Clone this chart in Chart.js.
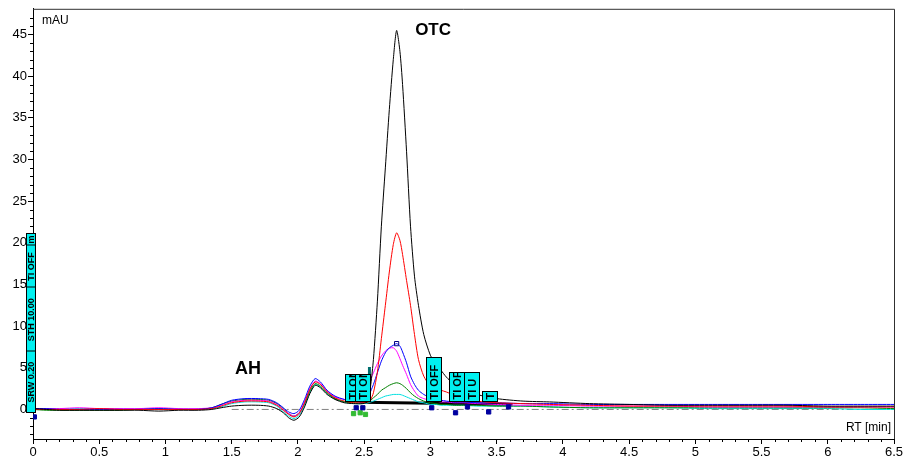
<!DOCTYPE html>
<html><head><meta charset="utf-8">
<script src="https://cdn.jsdelivr.net/npm/chart.js@4.4.1/dist/chart.umd.min.js"></script>
<style>html,body{margin:0;padding:0;background:#fff}#wrap{width:907px;height:464px;position:relative}</style>
</head><body><div id="wrap"><canvas id="c"></canvas></div>
<script>
// ---- data (retention time in min, absorbance in mAU) ----
const times = [0,0.1,0.2,0.35,0.5,0.65,0.8,0.95,1.1,1.25,
  1.35,1.42,1.5,1.6,1.7,1.78,1.84,1.89,1.93,1.97,
  2.01,2.05,2.09,2.13,2.17,2.22,2.28,2.35,2.42,
  2.49,2.53,2.55,2.57,2.60,2.63,2.66,2.69,2.72,2.745,2.77,2.79,2.82,2.85,2.88,2.91,2.95,3.00,3.04,3.08,3.12,3.18,3.25,3.35,3.5,
  3.7,3.9,4.2,4.5,4.8,5.1,5.4,5.7,6.0,6.25,6.5];
const blackTrace = [0.1,0.0,-0.1,-0.1,-0.1,-0.1,-0.1,-0.2,-0.1,-0.1,
  0.0,0.2,0.4,0.5,0.5,0.4,0.1,-0.4,-1.0,-1.3,
  -0.9,0.3,1.9,2.9,2.6,1.8,1.2,0.8,0.7,
  0.7,1.0,3.0,6.0,13,22,29,36,42,45.5,43,39,31,22,16,12.5,9,6.5,5.5,4.7,3.9,3.0,2.4,1.8,1.3,
  1.0,0.9,0.7,0.6,0.5,0.5,0.5,0.5,0.4,0.4,0.4];
const redTrace = [0.0,0.0,0.0,0.0,0.1,0.0,0.0,0.0,0.0,0.0,
  0.1,0.4,0.8,1.0,1.0,0.9,0.5,-0.1,-0.6,-0.9,
  -0.5,0.8,2.4,3.3,3.0,2.1,1.4,1.0,0.8,
  0.8,0.9,1.2,2.0,4.5,8.5,12.5,16.5,19.8,21.2,20.3,18.6,15.5,12.5,9.0,6.0,4.0,2.8,2.5,2.3,2.1,1.7,1.3,1.0,0.8,
  0.7,0.6,0.5,0.4,0.4,0.4,0.4,0.4,0.3,0.3,0.3];
const blueTrace = [0.1,0.1,0.0,0.0,0.0,0.0,0.0,0.1,0.0,0.0,
  0.2,0.6,1.1,1.3,1.3,1.2,0.8,0.2,-0.3,-0.5,
  -0.1,1.2,2.8,3.7,3.3,2.3,1.6,1.2,1.0,
  0.9,1.4,2.2,3.0,4.4,5.8,6.8,7.4,7.7,7.9,7.6,6.9,5.6,4.0,3.0,2.3,1.8,1.4,1.2,1.1,1.0,0.9,0.9,0.8,0.8,
  0.7,0.7,0.6,0.6,0.6,0.6,0.6,0.6,0.6,0.6,0.6];
const magentaTrace = [0.1,0.1,0.1,0.2,0.1,0.1,0.1,0.2,0.1,0.1,
  0.2,0.5,0.9,1.1,1.1,1.0,0.6,0.0,-0.5,-0.8,
  -0.4,0.9,2.5,3.4,3.1,2.2,1.5,1.2,1.1,
  1.3,3.0,3.7,4.4,5.5,6.4,7.0,7.35,7.4,7.0,6.1,5.3,4.2,3.0,2.2,1.6,1.3,1.1,1.0,0.9,0.9,0.8,0.8,0.7,0.6,
  0.5,0.5,0.4,0.4,0.4,0.3,0.3,0.3,0.3,0.3,0.3];
const greenTrace = [0.0,-0.1,-0.1,-0.1,-0.1,-0.1,0.0,0.0,0.0,0.0,
  0.2,0.6,1.0,1.2,1.2,1.1,0.7,0.1,-0.5,-0.8,
  -0.4,0.7,2.2,3.1,2.8,2.0,1.3,0.9,0.8,
  0.8,0.9,1.1,1.4,1.8,2.3,2.6,2.9,3.1,3.2,3.1,2.9,2.5,2.0,1.6,1.3,1.0,0.8,0.7,0.6,0.6,0.5,0.5,0.5,0.4,
  0.4,0.3,0.2,0.2,0.2,0.2,0.2,0.2,0.2,0.2,0.1];
const cyanTrace = [0.1,0.1,0.1,0.1,0.1,0.1,0.1,0.1,0.1,0.1,
  0.1,0.3,0.7,0.9,0.9,0.8,0.4,-0.3,-0.8,-1.1,
  -0.7,0.5,2.0,3.0,2.7,1.9,1.3,0.9,0.7,
  0.7,0.8,0.9,1.0,1.2,1.4,1.6,1.7,1.8,1.8,1.8,1.7,1.5,1.3,1.1,0.9,0.8,0.6,0.6,0.5,0.5,0.5,0.5,0.4,0.4,
  0.4,0.3,0.2,0.2,0.2,0.1,0.1,0.1,0.1,0.0,0.0];

const xTicks = [0,0.5,1,1.5,2,2.5,3,3.5,4,4.5,5,5.5,6,6.5];
const yTicks = [0,5,10,15,20,25,30,35,40,45];

// integration events
const eventTimes  = [-0.02, 2.41, 2.49, 3.02, 3.20, 3.31, 3.45];
const eventTops   = [21.2, 4.2, 4.2, 6.25, 4.45, 4.45, 2.2];
const eventBases  = [-0.3, 1.0, 1.0, 1.0, 1.0, 1.0, 1.0];
const eventLabels = ["SRW 0.20|STH 10.00|TI OFF|m", "TI ON", "TI ON", "TI OFF", "TI OFF", "TI U", "TI ON"];

const markerTimes  = [0.01, 2.44, 2.49, 3.01, 3.19, 3.28, 3.44, 3.59];
const markerValues = [-0.9, 0.2, 0.2, 0.2, -0.4, 0.3, -0.3, 0.3];
const greenMarkTimes  = [2.42, 2.47, 2.51];
const greenMarkValues = [-0.5, -0.4, -0.6];
const integTimes  = [2.47, 3.15, 3.62];
const integValues = [0.85, 0.7, 0.6];
const zeroTimes  = [1.5, 6.5];
const zeroValues = [0, 0];
const barTimes  = [2.54, 2.54];
const barValues = [1.0, 5.1];

const pts = (xs, ys) => xs.map((x, i) => ({x: x, y: ys[i]}));
const FONT = '"Liberation Sans", Arial, sans-serif';
const blueMax = blueTrace.indexOf(Math.max(...blueTrace));

function trace(data, color, extra) {
  return Object.assign({data: pts(times, data), borderColor: color, borderWidth: 1,
    pointRadius: 0, tension: 0.25, fill: false}, extra || {});
}

const datasets = [
  trace(blackTrace, '#000000'),
  trace(redTrace, '#ff0000'),
  trace(blueTrace, '#0000ff', {pointRadius: c => c.dataIndex === blueMax ? 3 : 0,
      pointStyle: 'rect', pointBorderColor: '#000080', pointBackgroundColor: 'rgba(0,0,0,0)', pointBorderWidth: 1}),
  trace(magentaTrace, '#ff00ff'),
  trace(greenTrace, '#008000'),
  trace(cyanTrace, '#00e0e0'),
  {data: pts(integTimes, integValues), borderColor: '#000', borderWidth: 3, pointRadius: 0, tension: 0},
  {data: pts(barTimes, barValues), borderColor: '#006e6e', borderWidth: 3, pointRadius: 0, tension: 0},
  {type: 'scatter', data: pts(markerTimes, markerValues), pointStyle: 'rect', pointRadius: 3,
    backgroundColor: '#0000a0', borderColor: '#0000a0', order: -1},
  {type: 'scatter', data: pts(greenMarkTimes, greenMarkValues), pointStyle: 'rect', pointRadius: 3,
    backgroundColor: '#33bb33', borderColor: '#33bb33', order: -1},
  {data: pts(zeroTimes, zeroValues), borderColor: '#808080', borderWidth: 1, borderDash: [7, 3, 2, 3],
    pointRadius: 0, tension: 0, order: 10}
];

const overlay = {
  id: 'overlay',
  afterDraw(chart) {
    const ctx = chart.ctx, xs = chart.scales.x, ys = chart.scales.y, a = chart.chartArea;
    ctx.save();
    // frame top / right
    ctx.strokeStyle = '#303030'; ctx.lineWidth = 1;
    ctx.beginPath();
    ctx.moveTo(a.left, a.top + 0.5); ctx.lineTo(a.right + 0.5, a.top + 0.5); ctx.lineTo(a.right + 0.5, a.bottom);
    ctx.stroke();
    // minor ticks
    ctx.strokeStyle = '#000';
    ctx.beginPath();
    for (let i = 0; i <= 65; i++) {
      if (i % 5 === 0) continue;
      const px = Math.round(xs.getPixelForValue(i / 10)) + 0.5;
      ctx.moveTo(px, a.bottom); ctx.lineTo(px, a.bottom + 3);
    }
    for (let v = -3; v <= 47; v++) {
      if (v % 5 === 0) continue;
      const py = Math.round(ys.getPixelForValue(v)) + 0.5;
      ctx.moveTo(a.left, py); ctx.lineTo(a.left - 3, py);
    }
    ctx.stroke();
    // texts
    ctx.fillStyle = '#000';
    ctx.textBaseline = 'middle';
    ctx.font = '12px ' + FONT; ctx.textAlign = 'left';
    ctx.fillText('mAU', a.left + 9, a.top + 12);
    ctx.textAlign = 'right';
    ctx.fillText('RT [min]', a.right - 3, a.bottom - 11);
    ctx.textAlign = 'left';
    ctx.font = 'bold 17px ' + FONT;
    ctx.fillText('OTC', xs.getPixelForValue(2.885), ys.getPixelForValue(45.5));
    ctx.font = 'bold 18px ' + FONT;
    ctx.fillText('AH', xs.getPixelForValue(1.525), ys.getPixelForValue(4.8));
    // event boxes
    eventTimes.forEach((t, i) => {
      const w = i === 0 ? 9 : 15;
      const cx = xs.getPixelForValue(t);
      const x0 = Math.round(cx - w / 2) + 0.5;
      const yTop = Math.round(ys.getPixelForValue(eventTops[i])) + 0.5;
      const yBot = Math.round(ys.getPixelForValue(eventBases[i])) + 0.5;
      const h = yBot - yTop;
      ctx.fillStyle = '#00f0f0';
      ctx.fillRect(x0, yTop, w, h);
      ctx.strokeStyle = '#000'; ctx.lineWidth = 1;
      ctx.strokeRect(x0, yTop, w, h);
      ctx.save();
      ctx.beginPath(); ctx.rect(x0, yTop, w, h); ctx.clip();
      ctx.fillStyle = '#000';
      const segs = eventLabels[i].split('|');
      ctx.translate(x0 + w / 2 + 0.5, yBot);
      ctx.rotate(-Math.PI / 2);
      ctx.textAlign = 'left'; ctx.textBaseline = 'middle';
      if (segs.length === 1) {
        ctx.font = 'bold 11px ' + FONT;
        ctx.fillText(segs[0], 2, 0);
      } else {
        ctx.font = 'bold 9px ' + FONT;
        const ws = segs.map(s => ctx.measureText(s).width);
        const tot = ws.reduce((p, q) => p + q, 0);
        const k = h / tot;
        let pos = 0;
        segs.forEach((s, j) => {
          const len = ws[j] * k;
          ctx.fillText(s, pos + (len - ws[j]) / 2, 0);
          pos += len;
          if (j < segs.length - 1) {
            ctx.beginPath(); ctx.moveTo(Math.round(pos) + 0.5, -w / 2); ctx.lineTo(Math.round(pos) + 0.5, w / 2);
            ctx.stroke();
          }
        });
      }
      ctx.restore();
    });
    ctx.restore();
  }
};

new Chart(document.getElementById('c'), {
  type: 'line',
  data: {datasets: datasets},
  plugins: [overlay],
  options: {
    responsive: true, maintainAspectRatio: false, animation: false,
    layout: {padding: {left: 0, right: 13, top: 7, bottom: 0}},
    plugins: {legend: {display: false}, tooltip: {enabled: false}},
    scales: {
      x: {
        type: 'linear', min: 0, max: 6.5,
        afterFit: s => { s.height = 25; },
        afterBuildTicks: s => { s.ticks = xTicks.map(v => ({value: v})); },
        ticks: {color: '#000', font: {size: 13, family: FONT}, padding: 1, maxRotation: 0,
          callback: v => String(v)},
        grid: {drawOnChartArea: false, drawTicks: true, tickLength: 5, color: '#000'},
        border: {display: true, color: '#000', width: 1}
      },
      y: {
        type: 'linear', min: -3.55, max: 48.1,
        afterFit: s => { s.width = 33; },
        afterBuildTicks: s => { s.ticks = yTicks.map(v => ({value: v})); },
        ticks: {color: '#000', font: {size: 13, family: FONT}, padding: 1,
          callback: v => String(v)},
        grid: {drawOnChartArea: false, drawTicks: true, tickLength: 5, color: '#000'},
        border: {display: true, color: '#000', width: 1}
      }
    }
  }
});
</script>
</body></html>
